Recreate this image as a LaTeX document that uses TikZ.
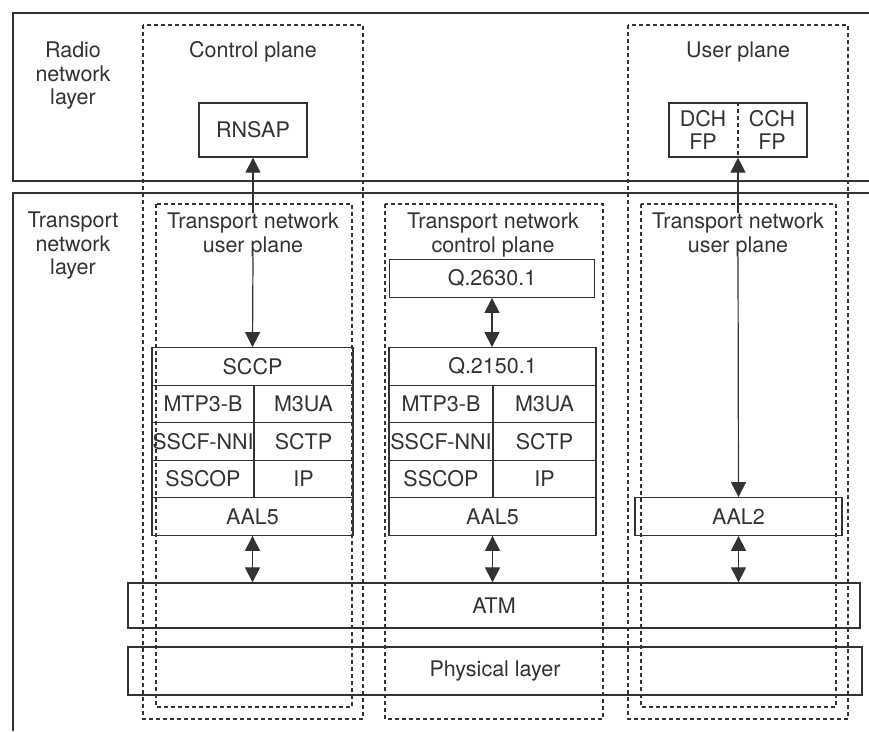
\documentclass[tikz,border=0pt]{standalone}
\usepackage{fontspec}
\setmainfont{TeX Gyre Heros}
\usetikzlibrary{arrows.meta}
\definecolor{ink}{gray}{0.2}
\tikzset{
  x=1pt, y=-1pt,
  every node/.style={font=\fontsize{21.5}{23.5}\selectfont, text=ink, inner sep=0pt, align=center},
  frame/.style={draw=ink, line width=1.5pt},
  plane/.style={draw=ink, line width=1.2pt, dash pattern=on 4pt off 3pt},
  cell/.style={draw=ink, line width=1.3pt, minimum height=#1},
  cell/.default=37.5pt,
  tip/.style={-{Triangle[width=15pt,length=15pt]}, draw=ink, line width=1.2pt},
  dtip/.style={{Triangle[width=15pt,length=15pt]}-{Triangle[width=15pt,length=15pt]}, draw=ink, line width=1.2pt},
}
\begin{document}
\begin{tikzpicture}
\useasboundingbox (0,0) rectangle (869,731);
\fill[white] (0,0) rectangle (869,731);

% layer frames
\draw[frame] (869,13) -- (13,13) -- (13,181) -- (869,181);
\draw[frame] (869,193) -- (13,193) -- (13,731);

% dashed planes
\draw[plane] (143,25) rectangle (363,719);
\draw[plane] (628,25) rectangle (848,719);
\draw[plane] (385,204) rectangle (603,719);
\draw[plane] (156,204) rectangle (352,707);
\draw[plane] (641,204) rectangle (836,707);

% labels
\node (rnl) at (73,76) {Radio\\network\\layer};
\node (tnl) at (73,246) {Transport\\network\\layer};
\node (cpl) at (253,52) {Control plane};
\node (upl) at (738,52) {User plane};
\node (tnupL) at (253,235) {Transport network\\user plane};
\node (tncp) at (493,235) {Transport network\\control plane};
\node (tnupR) at (738,235) {Transport network\\user plane};

% radio network layer boxes
\node[cell=54pt, minimum width=108pt] (rnsap) at (253,130) {RNSAP};
\node[cell=54pt, minimum width=138pt] (fp) at (738,130) {};
\node (dch) at (703,130) {DCH\\FP};
\node (cch) at (772,130) {CCH\\FP};
\draw[plane] (fp.north) -- (fp.south);

% left stack
\node[cell, minimum width=201pt] (sccp) at (252.5,366.5) {SCCP};
\node[cell, minimum width=102pt] (mtpL) at (203,404) {MTP3-B};
\node[cell, minimum width=99pt] (m3uaL) at (303.5,404) {M3UA};
\node[cell, minimum width=102pt] (sscfL) at (203,441.5) {SSCF-NNI};
\node[cell, minimum width=99pt] (sctpL) at (303.5,441.5) {SCTP};
\node[cell, minimum width=102pt] (sscopL) at (203,479) {SSCOP};
\node[cell, minimum width=99pt] (ipL) at (303.5,479) {IP};
\node[cell, minimum width=201pt] (aal5L) at (252.5,516.5) {AAL5};

% middle stack
\node[cell, minimum width=205pt] (q2630) at (492,278.5) {Q.2630.1};
\node[cell, minimum width=207pt] (q2150) at (492.5,366.5) {Q.2150.1};
\node[cell, minimum width=104pt] (mtpM) at (441,404) {MTP3-B};
\node[cell, minimum width=103pt] (m3uaM) at (544.5,404) {M3UA};
\node[cell, minimum width=104pt] (sscfM) at (441,441.5) {SSCF-NNI};
\node[cell, minimum width=103pt] (sctpM) at (544.5,441.5) {SCTP};
\node[cell, minimum width=104pt] (sscopM) at (441,479) {SSCOP};
\node[cell, minimum width=103pt] (ipM) at (544.5,479) {IP};
\node[cell, minimum width=207pt] (aal5M) at (492.5,516.5) {AAL5};

% right stack
\node[cell, minimum width=207pt] (aal2) at (738.5,516.5) {AAL2};

% common layers
\node[cell=45pt, minimum width=732pt] (atm) at (494,605.5) {ATM};
\node[cell=48pt, minimum width=734pt] (phy) at (495,671) {Physical layer};

% connectors
\draw[tip] (tnupL.north) -- (rnsap.south);
\draw[tip] (tnupL.south) -- (sccp.north);
\draw[tip] (tnupR.north) -- (fp.south);
\draw[tip] (tnupR.south) -- (aal2.north);
\draw[dtip] (q2630.south) -- (q2630.south |- q2150.north);
\draw[dtip] (aal5L.south) -- (aal5L.south |- atm.north);
\draw[dtip] (aal5M.south) -- (aal5M.south |- atm.north);
\draw[dtip] (aal2.south) -- (aal2.south |- atm.north);
\end{tikzpicture}
\end{document}
